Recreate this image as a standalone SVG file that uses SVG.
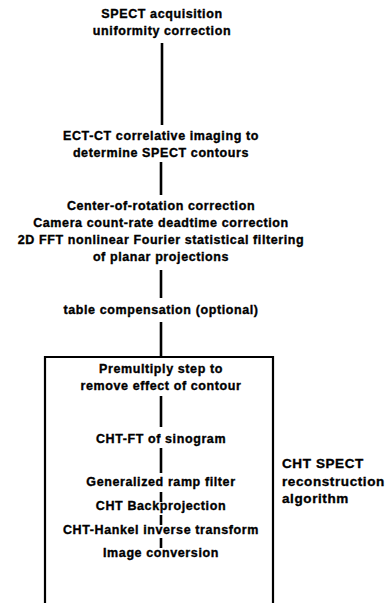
<svg xmlns="http://www.w3.org/2000/svg" width="385" height="603" viewBox="0 0 385 603">
<style>
text{font-family:"Liberation Sans",Arial,sans-serif;font-weight:bold;font-size:12.5px;letter-spacing:0.6px;fill:#000;stroke:#000;stroke-width:0.35}
.c{text-anchor:middle}
.l{text-anchor:start;font-size:13.5px}
.ln{stroke:#000;stroke-width:2.6;fill:none}
.box{stroke:#000;stroke-width:2.2;fill:none}
</style>
<rect width="385" height="603" fill="#fff"/>
<g id="connectors">
<line class="ln" x1="162" y1="43" x2="162" y2="125"/>
<line class="ln" x1="161" y1="162" x2="161" y2="195"/>
<line class="ln" x1="161" y1="270" x2="161" y2="298"/>
<line class="ln" x1="161" y1="322" x2="161" y2="357"/>
<line class="ln" x1="161" y1="396" x2="161" y2="427"/>
<line class="ln" x1="161" y1="448" x2="161" y2="473"/>
<line class="ln" x1="161" y1="492" x2="161" y2="502"/>
<line class="ln" x1="161" y1="515" x2="161" y2="525"/>
<line class="ln" x1="161" y1="538" x2="161" y2="548"/>
</g>
<g id="n1"><text class="c" x="162" y="18">SPECT acquisition</text><text class="c" x="162" y="35">uniformity correction</text></g>
<g id="n2"><text class="c" x="161" y="140">ECT-CT correlative imaging to</text><text class="c" x="161" y="157">determine SPECT contours</text></g>
<g id="n3"><text class="c" x="161" y="210">Center-of-rotation correction</text><text class="c" x="161" y="227">Camera count-rate deadtime correction</text><text class="c" x="161" y="244">2D FFT nonlinear Fourier statistical filtering</text><text class="c" x="161" y="261">of planar projections</text></g>
<g id="n4"><text class="c" x="161" y="314">table compensation (optional)</text></g>
<g id="cht-box"><path class="box" d="M45 610 V357 H273 V610"/></g>
<g id="n5"><text class="c" x="161" y="373">Premultiply step to</text><text class="c" x="161" y="390">remove effect of contour</text></g>
<g id="n6"><text class="c" x="161" y="443">CHT-FT of sinogram</text></g>
<g id="n7"><text class="c" x="161" y="486">Generalized ramp filter</text></g>
<g id="n8"><text class="c" x="161" y="510">CHT Backprojection</text></g>
<g id="n9"><text class="c" x="161" y="534">CHT-Hankel inverse transform</text></g>
<g id="n10"><text class="c" x="161" y="557">Image conversion</text></g>
<g id="label"><text class="l" x="282" y="468">CHT SPECT</text><text class="l" x="282" y="486">reconstruction</text><text class="l" x="282" y="503">algorithm</text></g>
</svg>
